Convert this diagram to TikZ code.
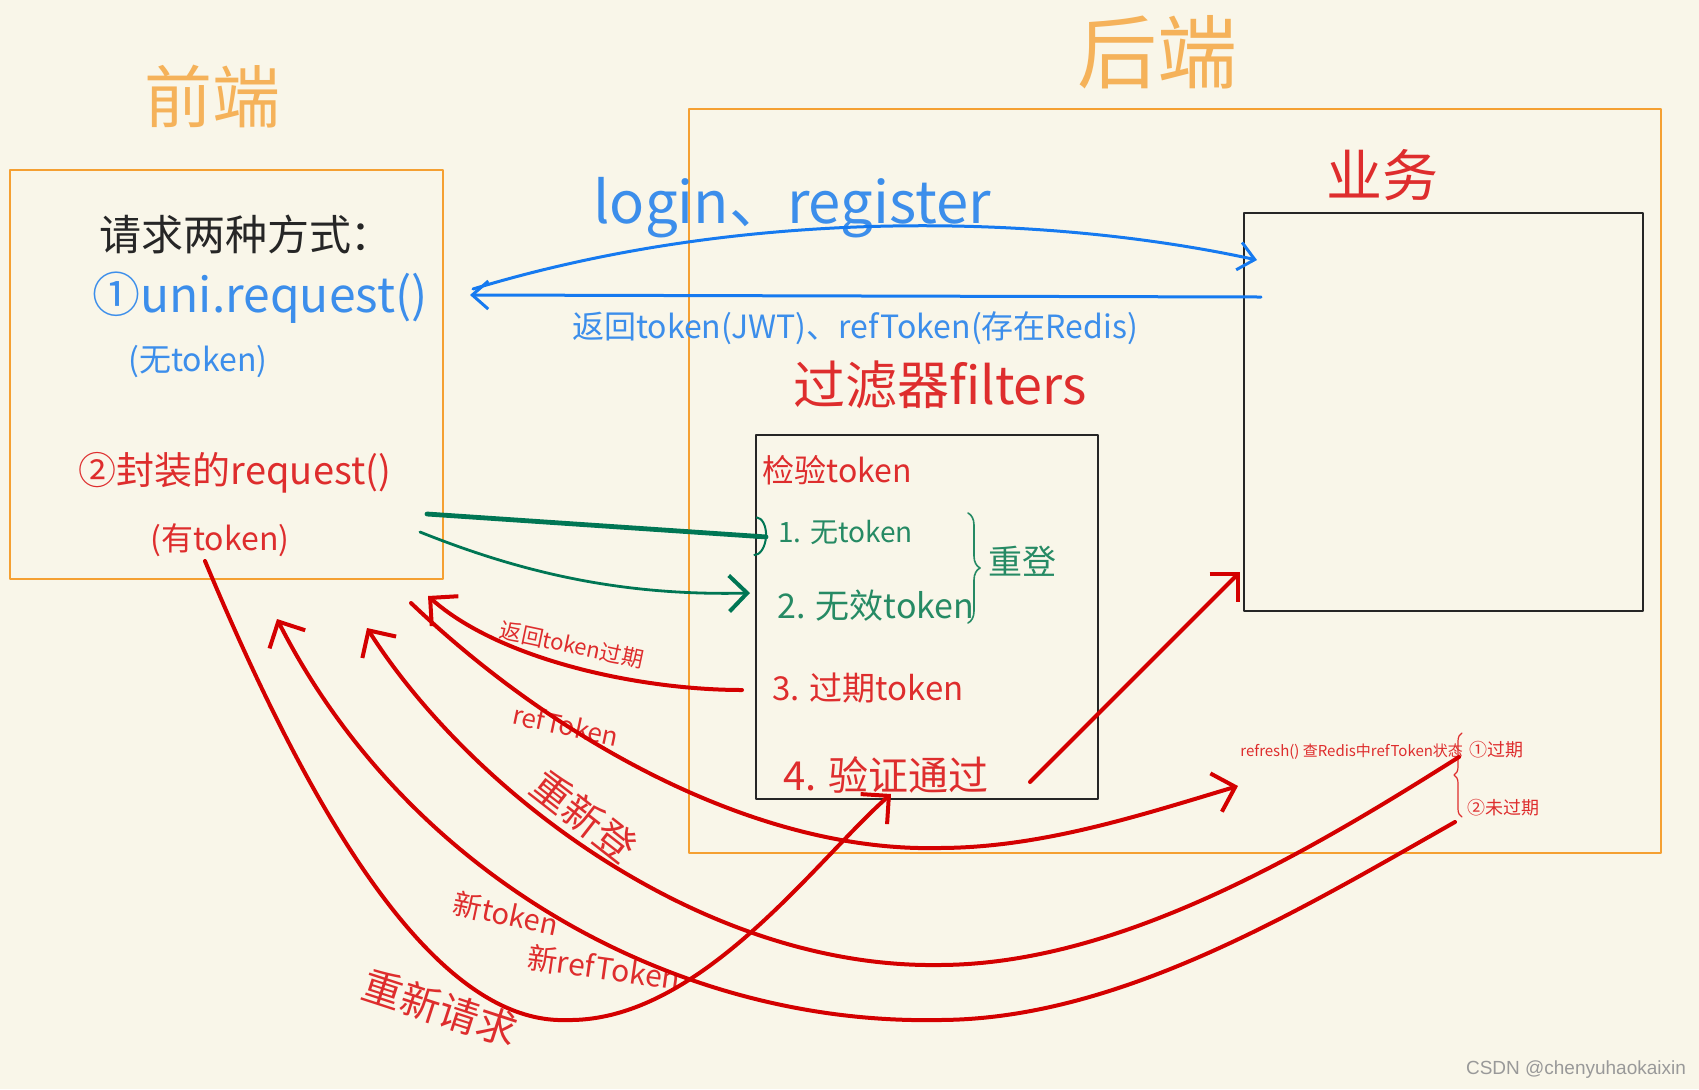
\documentclass[tikz,border=0pt]{standalone}
\usepackage{fontspec}
\setmainfont{Noto Sans CJK SC}
\newfontfamily\marksans{Liberation Sans}
\usetikzlibrary{arrows.meta,decorations.pathreplacing}

\definecolor{paper}{RGB}{249,246,233}
\definecolor{boxorange}{RGB}{245,160,50}
\definecolor{inkorange}{RGB}{245,178,90}
\definecolor{penblue}{RGB}{22,122,240}
\definecolor{inkblue}{RGB}{60,142,235}
\definecolor{penred}{RGB}{212,0,0}
\definecolor{inkred}{RGB}{222,45,45}
\definecolor{pengreen}{RGB}{0,118,84}
\definecolor{inkgreen}{RGB}{38,138,100}

\newcommand\handsize[1]{\fontsize{#1}{#1}\selectfont}

\begin{document}
\begin{tikzpicture}[x=0.5pt,y=-0.5pt,line cap=round,line join=round,
  every node/.style={inner sep=0pt},
  frame/.style={draw=boxorange,line width=1.2pt},
  blackbox/.style={draw=black!85,line width=1.4pt},
  bluearr/.style={penblue,line width=1.5pt,-{Straight Barb[length=8pt,width=14pt]}},
  greenarr/.style={pengreen,line width=1.4pt,-{Straight Barb[length=9pt,width=18pt,line width=2pt]}},
  redarr/.style={penred,line width=2pt,-{Straight Barb[length=10pt,width=20pt]}},
  bluetxt/.style={text=inkblue},
  redtxt/.style={text=inkred},
  greentxt/.style={text=inkgreen},
  orangetxt/.style={text=inkorange}]

\fill[paper] (0,0) rectangle (1699,1089);

\draw[frame] (10,170) rectangle (443,579);
\draw[frame] (689,109) rectangle (1661,853);
\draw[blackbox] (1244,213) rectangle (1643,611);
\draw[blackbox] (756,435) rectangle (1098,799);

\node[orangetxt,font=\handsize{34}] (front) at (212,97) {前端};
\node[orangetxt,font=\handsize{40}] (back) at (1157,52) {后端};

\node[text=black!85,font=\handsize{21}] (ways) at (246,234) {请求两种方式：};
\node[bluetxt,font=\handsize{24}] (uni) at (260,298) {①uni.request()};
\node[bluetxt,font=\handsize{16}] (unitok) at (198,362) {(无token)};
\node[redtxt,font=\handsize{19}] (wrap) at (235,473) {②封装的request()};
\node[redtxt,font=\handsize{16}] (wraptok) at (220,540) {(有token)};

\node[bluetxt,font=\handsize{29}] (login) at (792,208) {login、register};
\node[bluetxt,font=\handsize{16}] (ret) at (855,328) {返回token(JWT)、refToken(存在Redis)};
\node[redtxt,font=\handsize{26}] (filt) at (940,385) {过滤器filters};
\node[redtxt,font=\handsize{28}] (biz) at (1382,175) {业务};

\node[redtxt,font=\handsize{16},anchor=west] (check) at (762,470) {检验token};
\node[greentxt,font=\handsize{14},anchor=west] (t1) at (778,532) {1. 无token};
\node[greentxt,font=\handsize{17},anchor=west] (t2) at (777,606) {2. 无效token};
\node[greentxt,font=\handsize{17}] (relog) at (1022,561) {重登};
\node[redtxt,font=\handsize{16.5},anchor=west] (t3) at (772,688) {3. 过期token};
\node[redtxt,font=\handsize{20},anchor=west] (t4) at (783,775) {4. 验证通过};

\node[redtxt,font=\handsize{7.5},anchor=west] (refresh) at (1240,752) {refresh() 查Redis中refToken状态};
\node[redtxt,font=\handsize{9},anchor=west] (exp) at (1469,750) {①过期};
\node[redtxt,font=\handsize{9},anchor=west] (nexp) at (1467,808) {②未过期};

\node[redtxt,font=\handsize{11},rotate=-12] (retexp) at (572,645) {返回token过期};
\node[redtxt,font=\handsize{13},rotate=-12] (reftk) at (566,725) {refToken};
\node[redtxt,font=\handsize{20},rotate=-38] (relogin) at (584,816) {重新登};
\node[redtxt,font=\handsize{14.5},rotate=-12] (newtk) at (506,914) {新token};
\node[redtxt,font=\handsize{15},rotate=-8] (newref) at (604,968) {新refToken};
\node[redtxt,font=\handsize{20},rotate=-18] (retry) at (440,1008) {重新请求};

\node[text=gray!80,font=\marksans\handsize{9.5}] (mark) at (1576,1070) {CSDN @chenyuhaokaixin};

\draw[inkgreen,line width=0.8pt,decorate,decoration={brace,amplitude=6pt}] (968,513) -- (968,623);
\draw[inkred,line width=0.6pt,decorate,decoration={brace,amplitude=4pt}] (1462,817) -- (1462,733);

\coordinate (loginS) at (473,289);
\coordinate (loginE) at (1257,260);
\coordinate (jwtS) at (1261,297);
\coordinate (jwtE) at (470,295);
\coordinate (g1S) at (427,514);
\coordinate (g1E) at (767,537);
\coordinate (g2S) at (420,532);
\coordinate (g2E) at (750,593);
\coordinate (expS) at (742,690);
\coordinate (expE) at (428,596);
\coordinate (refS) at (411,603);
\coordinate (refB) at (938,848);
\coordinate (refE) at (1238,786);
\coordinate (passS) at (1030,782);
\coordinate (passE) at (1240,572);
\coordinate (reS) at (1459,757);
\coordinate (reB) at (938,965);
\coordinate (reE) at (367,628);
\coordinate (newS) at (1455,822);
\coordinate (newB) at (938,1020);
\coordinate (newE) at (277,619);
\coordinate (rqS) at (205,561);
\coordinate (rqB) at (567,1020);
\coordinate (rqE) at (891,794);

\draw[bluearr] (loginS) .. controls (750,205) and (1050,215) .. (loginE);
\draw[bluearr] (jwtS) -- (jwtE);
\draw[pengreen,line width=2.4pt,-{Arc Barb[length=6pt,width=20pt,line width=1pt]}] (g1S) -- (g1E);
\draw[greenarr] (g2S) .. controls (520,572) and (620,596) .. (g2E);
\draw[redarr] (expS) .. controls (640,690) and (500,660) .. (expE);
\draw[redarr] (refS) .. controls (560,745) and (760,852) .. (refB) .. controls (1040,848) and (1138,816) .. (refE);
\draw[redarr] (passS) -- (passE);
\draw[redarr] (reS) .. controls (1307,853) and (1118,965) .. (reB) .. controls (700,968) and (470,790) .. (reE);
\draw[redarr] (newS) .. controls (1298,911) and (1118,1020) .. (newB) .. controls (680,1025) and (410,880) .. (newE);
\draw[redarr] (rqS) .. controls (305,800) and (430,1025) .. (rqB) .. controls (700,1022) and (816,860) .. (rqE);

\end{tikzpicture}
\end{document}
